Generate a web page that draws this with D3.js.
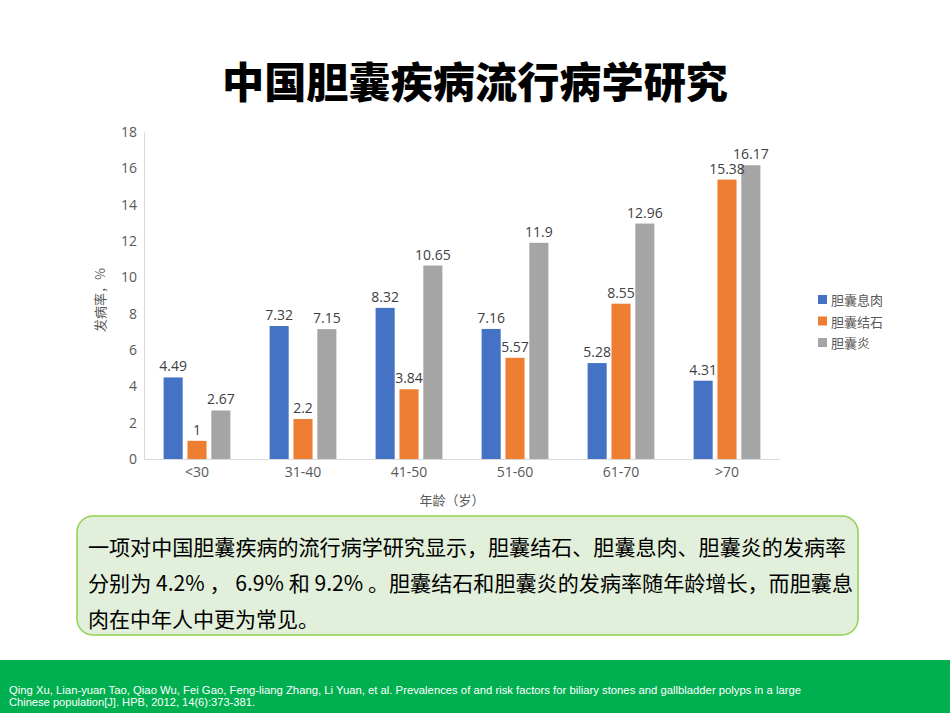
<!DOCTYPE html>
<html>
<head>
<meta charset="utf-8">
<script src="https://d3js.org/d3.v7.min.js"></script>
<style>
  body { margin: 0; background: #fff; }
  svg { display: block; font-family: "Noto Sans CJK SC", "Noto Sans", sans-serif; }
</style>
</head>
<body>
<svg id="chart" width="950" height="713"></svg>
<script>

// data
const ageGroups = ['<30', '31-40', '41-50', '51-60', '61-70', '>70']
const seriesNames = ['胆囊息肉', '胆囊结石', '胆囊炎']
const polyps = [4.49, 7.32, 8.32, 7.16, 5.28, 4.31]
const stones = [1, 2.2, 3.84, 5.57, 8.55, 15.38]
const inflammation = [2.67, 7.15, 10.65, 11.9, 12.96, 16.17]
const yTicks = [0, 2, 4, 6, 8, 10, 12, 14, 16, 18]
const colors = ['#4472c4', '#ed7d31', '#a5a5a5']

const titleText = '中国胆囊疾病流行病学研究'
const noteLines = [
  '一项对中国胆囊疾病的流行病学研究显示，胆囊结石、胆囊息肉、胆囊炎的发病率',
  '分别为 4.2% ， 6.9% 和 9.2% 。胆囊结石和胆囊炎的发病率随年龄增长，而胆囊息',
  '肉在中年人中更为常见。'
]
const refLines = [
  'Qing Xu, Lian-yuan Tao, Qiao Wu, Fei Gao, Feng-liang Zhang, Li Yuan, et al. Prevalences of and risk factors for biliary stones and gallbladder polyps in a large',
  'Chinese population[J]. HPB, 2012, 14(6):373-381.'
]

const series = [polyps, stones, inflammation]
const rows = ageGroups.map((g, i) => ({ group: g, values: series.map(s => s[i]) }))

const svg = d3.select('#chart')

// title
svg.append('text')
  .attr('x', 475).attr('y', 98)
  .attr('text-anchor', 'middle')
  .attr('textLength', 506)
  .attr('lengthAdjust', 'spacingAndGlyphs')
  .style('font-size', '42px')
  .style('font-weight', 900)
  .style('fill', '#000')
  .text(titleText)

const margin = { top: 132, left: 144 }
const plotW = 636, plotH = 327

const g = svg.append('g').attr('transform', `translate(${margin.left},${margin.top})`)

const x = d3.scaleBand().domain(ageGroups).range([0, plotW]).paddingInner(0.37).paddingOuter(0.185)
const xInner = d3.scaleBand().domain(d3.range(3)).range([0, x.bandwidth()]).paddingInner(0.2)
const y = d3.scaleLinear().domain([0, 18]).range([plotH, 0])

// y axis
const yAxis = g.append('g').call(d3.axisLeft(y).tickValues(yTicks).tickSize(0).tickPadding(7))
yAxis.select('.domain').attr('stroke', '#d9d9d9')
yAxis.selectAll('text').style('font-size', '14px').style('fill', '#595959').style('font-family', '"Open Sans", "Noto Sans", sans-serif')

// bars
const grp = g.selectAll('.grp')
  .data(rows)
  .join('g')
    .attr('class', 'grp')
    .attr('transform', d => `translate(${x(d.group)},0)`)

grp.selectAll('rect')
  .data(d => d.values)
  .join('rect')
    .attr('x', (d, i) => xInner(i))
    .attr('y', d => y(d))
    .attr('width', xInner.bandwidth())
    .attr('height', d => plotH - y(d))
    .attr('fill', (d, i) => colors[i])

grp.selectAll('text')
  .data(d => d.values)
  .join('text')
    .attr('x', (d, i) => xInner(i) + xInner.bandwidth() / 2)
    .attr('y', d => y(d) - 6)
    .attr('text-anchor', 'middle')
    .style('font-size', '14px')
    .style('fill', '#404040')
    .style('font-family', '"Open Sans", "Noto Sans", sans-serif')
    .text(d => d)

// x axis
const xAxis = g.append('g').attr('transform', `translate(0,${plotH})`)
  .call(d3.axisBottom(x).tickSize(0).tickPadding(8))
xAxis.select('.domain').attr('stroke', '#d9d9d9')
xAxis.selectAll('text').style('font-size', '14px').style('fill', '#595959').style('font-family', '"Open Sans", "Noto Sans", sans-serif')

// axis titles
svg.append('text')
  .attr('transform', 'translate(105,300) rotate(-90)')
  .attr('text-anchor', 'middle')
  .style('font-size', '13px').style('fill', '#595959')
  .text('发病率，%')

svg.append('text')
  .attr('x', 452).attr('y', 505)
  .attr('text-anchor', 'middle')
  .style('font-size', '13px').style('fill', '#595959')
  .text('年龄（岁）')

// legend
const legend = svg.append('g').attr('transform', 'translate(818,300)')
  .selectAll('g')
  .data(seriesNames)
  .join('g')
    .attr('transform', (d, i) => `translate(0,${i * 21.5})`)
legend.append('rect').attr('x', 0).attr('y', -5).attr('width', 9).attr('height', 9).attr('fill', (d, i) => colors[i])
legend.append('text').attr('x', 13).attr('y', 5)
  .style('font-size', '13px').style('fill', '#595959')
  .text(d => d)

// note box
svg.append('rect')
  .attr('x', 77).attr('y', 516).attr('width', 781).attr('height', 119)
  .attr('rx', 16)
  .attr('fill', '#e2efda').attr('stroke', '#92d050').attr('stroke-width', 1.5)

svg.append('g').selectAll('text')
  .data(noteLines)
  .join('text')
    .attr('x', 88)
    .attr('y', (d, i) => 555 + i * 36)
    .attr('textLength', (d, i) => i === 0 ? 758 : (i === 1 ? 765 : null))
    .attr('lengthAdjust', 'spacingAndGlyphs')
    .style('font-size', '21px').style('fill', '#000')
    .text(d => d)

// reference band
svg.append('rect').attr('x', 0).attr('y', 660).attr('width', 950).attr('height', 53).attr('fill', '#00b050')
svg.append('g').selectAll('text')
  .data(refLines)
  .join('text')
    .attr('x', 9)
    .attr('y', (d, i) => 694 + i * 12)
    .attr('textLength', (d, i) => i === 0 ? 792 : 246)
    .attr('lengthAdjust', 'spacingAndGlyphs')
    .style('font-size', '11px').style('fill', '#fff')
    .style('font-family', '"Liberation Sans Narrow", "Liberation Sans", sans-serif')
    .text(d => d)

</script>
</body>
</html>
